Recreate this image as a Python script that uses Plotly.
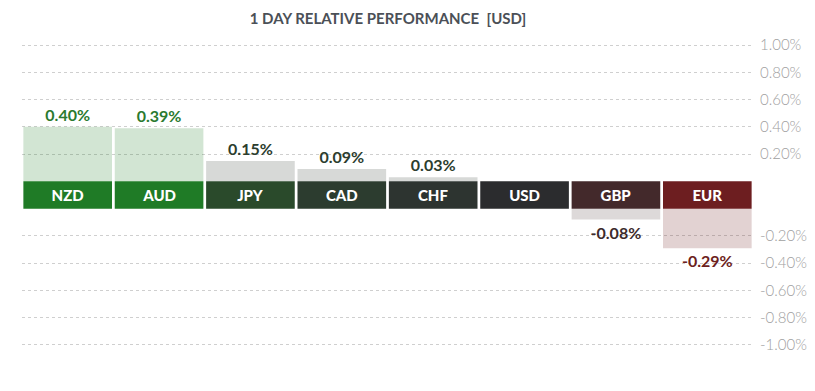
import plotly.graph_objects as go

# ---- data ----
currencies = ["NZD", "AUD", "JPY", "CAD", "CHF", "USD", "GBP", "EUR"]
performance = [0.40, 0.39, 0.15, 0.09, 0.03, 0.00, -0.08, -0.29]
tick_values = [1.0, 0.8, 0.6, 0.4, 0.2, -0.2, -0.4, -0.6, -0.8, -1.0]
tick_labels = ["1.00%", "0.80%", "0.60%", "0.40%", "0.20%",
               "-0.20%", "-0.40%", "-0.60%", "-0.80%", "-1.00%"]

# ---- style ----
BAND = 0.2  # height (in axis units) of the label band between positive and negative bars
band_colors = ["#1f7b26", "#1f7b26", "#2a4a2b", "#2c3c2f", "#2d3430",
               "#2b2c2e", "#43292b", "#6d1e20"]
bar_colors = ["rgba(30,123,37,0.2)", "rgba(30,123,37,0.2)",
              "rgba(40,52,40,0.19)", "rgba(40,52,40,0.19)", "rgba(40,52,40,0.19)",
              "rgba(40,52,40,0.19)", "rgba(68,42,44,0.18)", "rgba(109,30,32,0.2)"]
value_colors = ["#2b7a2f", "#2b7a2f", "#2c3d2e", "#2c3d2e", "#2c3d2e",
                "#2b2c2e", "#3c2a2b", "#6d1e20"]

# shift negative values below the label band
bar_base = [0 if v >= 0 else -BAND for v in performance]
value_text = [f"{v:.2f}%" if v != 0 else "" for v in performance]
axis_ticks = [t if t > 0 else t - BAND for t in tick_values]

W, H = 807, 383  # page body has an 8px margin

fig = go.Figure()

fig.add_trace(go.Bar(
    x=currencies, y=performance, base=bar_base,
    marker=dict(color=bar_colors, line=dict(width=0)),
    text=value_text, textposition="outside",
    outsidetextfont=dict(family="Lato", size=16, color=value_colors, weight="bold"),
    cliponaxis=False, hoverinfo="skip",
))

fig.add_trace(go.Bar(
    x=currencies, y=[BAND] * len(currencies), base=[-BAND] * len(currencies),
    marker=dict(color=band_colors, line=dict(width=0)),
    text=currencies, textposition="inside", insidetextanchor="middle",
    insidetextfont=dict(family="Lato", size=15, color="white", weight=900),
    constraintext="none", hoverinfo="skip",
))

fig.update_layout(
    width=W, height=H,
    margin=dict(l=14, r=62, t=33, b=42, autoexpand=False),
    paper_bgcolor="white", plot_bgcolor="white",
    barmode="overlay", bargap=0.03,
    showlegend=False,
    font=dict(family="Lato"),
    title=dict(
        text="1 DAY RELATIVE PERFORMANCE\u00a0\u00a0[USD]",
        x=380 / W, xref="container", xanchor="center",
        y=1 - 11 / H, yref="container", yanchor="middle",
        font=dict(family="Lato", size=15, color="#4b5057", weight="bold"),
    ),
    xaxis=dict(showticklabels=False, showgrid=False, zeroline=False,
               showline=False, ticks=""),
    yaxis=dict(
        side="right", range=[-1.23, 1.03],
        tickvals=axis_ticks, ticktext=tick_labels,
        showgrid=True, gridcolor="#cfcfcf", griddash="dot", gridwidth=1,
        zeroline=False, showline=False, ticks="",
        ticklabelstandoff=6,
        tickfont=dict(family="Lato", size=15, color="#a0a0a0", weight=300),
    ),
)

fig.write_html("out.html")
